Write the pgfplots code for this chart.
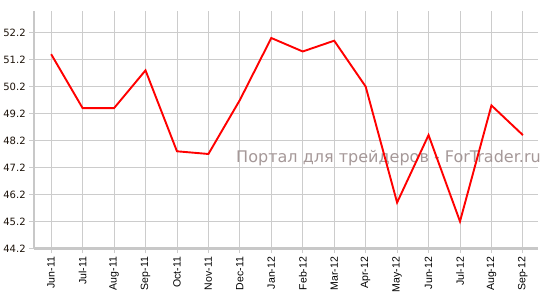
\documentclass[border=0pt]{standalone}
\usepackage{pgfplots}
\pgfplotsset{compat=1.18}
\usepackage{fontspec}
\setmainfont{DejaVu Sans}
\newfontfamily\arialf{Liberation Sans}
\definecolor{gridc}{RGB}{204,204,204}
\definecolor{axc}{RGB}{200,200,200}
\definecolor{wm}{RGB}{165,152,152}
\begin{document}
\begin{tikzpicture}
\begin{axis}[
  name=ax,
  scale only axis,
  width=503pt, height=237pt,
  xmin=-0.54, xmax=15.48,
  ymin=44.2, ymax=53.0,
  axis lines*=left,
  axis line style={axc, line width=2.5pt, -},
  xtick={0,...,15},
  xticklabels={Jun-11,Jul-11,Aug-11,Sep-11,Oct-11,Nov-11,Dec-11,Jan-12,Feb-12,Mar-12,Apr-12,May-12,Jun-12,Jul-12,Aug-12,Sep-12},
  ytick={44.2,45.2,...,52.2},
  yticklabels={44.2,45.2,46.2,47.2,48.2,49.2,50.2,51.2,52.2},
  x tick label style={rotate=90, anchor=east, font=\arialf\fontsize{10.5}{11}\selectfont},
  y tick label style={font=\fontsize{10}{11}\selectfont, text=black!85!brown},
  xmajorgrids, ymajorgrids,
  grid style={gridc, line width=0.8pt},
  tick style={gridc, line width=0.8pt},
  major tick length=5pt,
  tick align=outside,
  xtick pos=bottom, ytick pos=left,
  clip=false,
]
\node[anchor=east, text=wm, font=\fontsize{16}{17}\selectfont, inner sep=0pt] at ([xshift=3pt]axis cs:15.48,47.53) {Портал для трейдеров - ForTrader.ru};
\addplot[red, line width=1.9pt] coordinates {
 (0,51.4) (1,49.4) (2,49.4) (3,50.8) (4,47.8) (5,47.7) (6,49.7) (7,52.0)
 (8,51.5) (9,51.9) (10,50.2) (11,45.9) (12,48.4) (13,45.2) (14,49.5) (15,48.4)
};
\end{axis}
\path ([xshift=11pt,yshift=11pt]ax.north east) -- ([yshift=-46pt]ax.south west);
\end{tikzpicture}
\end{document}
